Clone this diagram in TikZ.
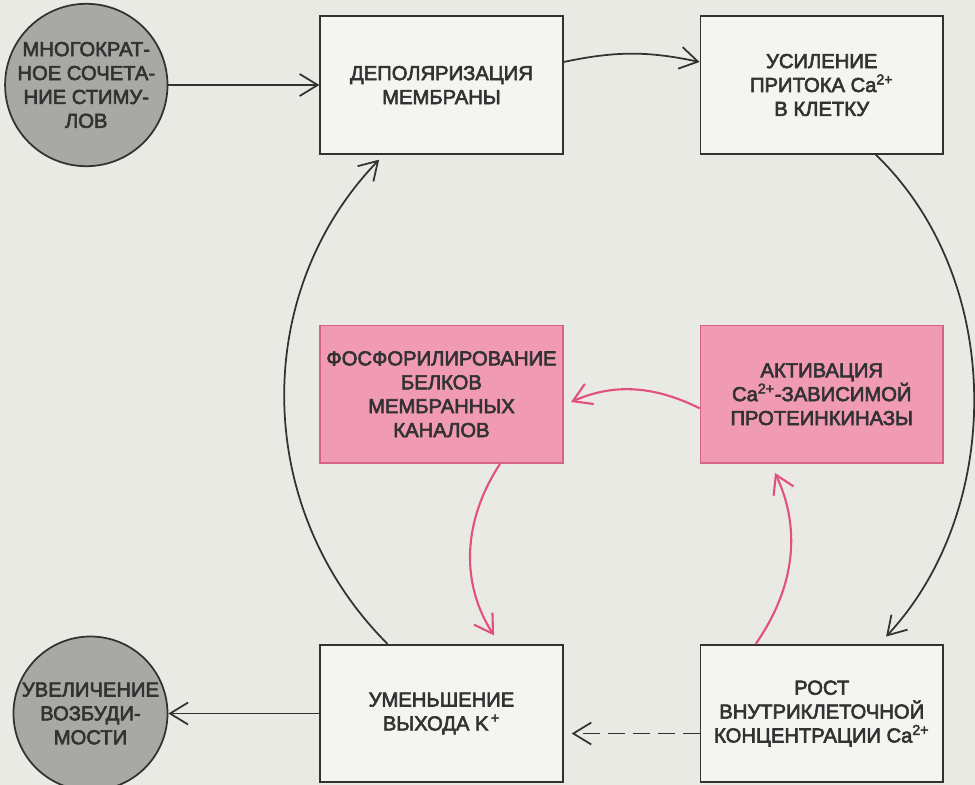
\documentclass[tikz,border=0pt]{standalone}
\usepackage{fontspec}
\setmainfont{Liberation Sans}[FakeBold=3]
\usetikzlibrary{shapes,arrows.meta,positioning}
\definecolor{PaperGray}{RGB}{234,234,229}
\definecolor{BoxWhite}{RGB}{244,244,240}
\definecolor{InkGray}{RGB}{50,50,50}
\definecolor{DiscGray}{RGB}{168,168,165}
\definecolor{RosePink}{RGB}{240,154,180}
\definecolor{RoseEdge}{RGB}{214,100,138}
\definecolor{RoseArrow}{RGB}{226,80,124}
\newcommand\diagfont{\fontsize{11.5}{13.6}\selectfont}

\begin{document}
\begin{tikzpicture}[
    box/.style={draw=InkGray, line width=1pt, fill=BoxWhite, rectangle, minimum width=4.85cm, minimum height=2.75cm, align=center, font=\diagfont, text=InkGray},
    pinkbox/.style={box, draw=RoseEdge, fill=RosePink},
    disc/.style={draw=InkGray, line width=1pt, fill=DiscGray, circle, minimum size=3.08cm, inner sep=0pt, align=center, font=\diagfont, text=InkGray},
    arrow/.style={-{Straight Barb[length=3.6mm,width=4.4mm]}, line width=1pt, InkGray},
    pinkarrow/.style={arrow, RoseArrow, line width=1.2pt}
  ]
    \fill[PaperGray] (0,0) rectangle (19.5,-15.7);
    \useasboundingbox (0,0) rectangle (19.5,-15.7);

    \node[box] (2) at (8.83,-1.7) {ДЕПОЛЯРИЗАЦИЯ\\МЕМБРАНЫ};
    \node[disc, left=3.02cm of 2] (1) {МНОГОКРАТ-\\НОЕ СОЧЕТА-\\НИЕ СТИМУ-\\ЛОВ};
    \node[box, right=2.72cm of 2] (3) {УСИЛЕНИЕ\\ПРИТОКА Ca\textsuperscript{2+}\\В КЛЕТКУ};
    \node[pinkbox, below=3.4cm of 3] (4) {АКТИВАЦИЯ\\Ca\textsuperscript{2+}-ЗАВИСИМОЙ\\ПРОТЕИНКИНАЗЫ};
    \node[pinkbox, below=3.4cm of 2] (5) {ФОСФОРИЛИРОВАНИЕ\\БЕЛКОВ\\МЕМБРАННЫХ\\КАНАЛОВ};
    \node[box, below=3.6cm of 4] (6) {РОСТ\\ВНУТРИКЛЕТОЧНОЙ\\КОНЦЕНТРАЦИИ Ca\textsuperscript{2+}};
    \node[box, below=3.6cm of 5] (7) {УМЕНЬШЕНИЕ\\ВЫХОДА K\textsuperscript{\,+}};
    \node[disc, left=3.02cm of 7] (8) {УВЕЛИЧЕНИЕ\\ВОЗБУДИ-\\МОСТИ};

    \draw[arrow] (1) -- (2);
    \draw[arrow] ([yshift=0.46cm]2.east) to[bend left=12] ([yshift=0.46cm]3.west);
    \draw[arrow, shorten >=0.2cm] ([xshift=1.08cm]3.south) to[out=-44, in=47, looseness=0.95] ([xshift=1.15cm]6.north);
    \draw[arrow, shorten >=0.14cm] ([xshift=-1.08cm]7.north) to[out=135, in=-134] ([xshift=-1.15cm]2.south);
    \draw[pinkarrow, shorten >=0.16cm] ([yshift=-0.28cm]4.west) to[bend right=25] ([yshift=-0.22cm]5.east);
    \draw[pinkarrow, shorten >=0.2cm] ([xshift=1.17cm]5.south) to[bend right=33] ([xshift=1.16cm]7.north);
    \draw[pinkarrow, shorten >=0.2cm] ([xshift=-1.32cm]6.north) to[bend right=30] ([xshift=-1.02cm]4.south);
    \draw[arrow, dash pattern=on 0.34cm off 0.16cm, shorten >=0.16cm] ([yshift=-0.4cm]6.west) -- ([yshift=-0.4cm]7.east);
    \draw[arrow] (7) -- (8);
  \end{tikzpicture}
\end{document}
